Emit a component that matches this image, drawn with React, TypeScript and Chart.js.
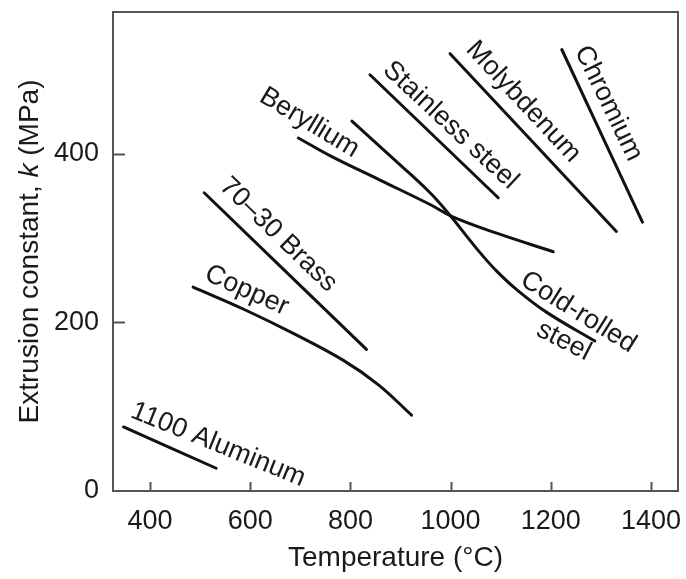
import React, { useEffect, useRef } from "react";
import { Chart, registerables } from "chart.js";

Chart.register(...registerables);

const FONT = "'Liberation Sans', Arial, Helvetica, sans-serif";

// ---- Data (temperature °C, extrusion constant k in MPa) ----
const aluminumT = [347, 532];
const aluminumK = [76, 27];

const copperT = [486, 586, 686, 786, 856, 922];
const copperK = [242, 216, 187, 155, 126, 90];

const brassT = [508, 832];
const brassK = [354, 168];

const berylliumT = [696, 759, 859, 959, 1002, 1092, 1205];
const berylliumK = [419, 398, 369, 340, 326, 306, 284];

const coldRolledT = [803, 892, 959, 1002, 1030, 1060, 1092, 1132, 1192, 1288];
const coldRolledK = [439, 391, 354, 325, 304, 282, 261, 239, 212, 178];

const stainlessT = [839, 1095];
const stainlessK = [494, 348];

const molybdenumT = [999, 1331];
const molybdenumK = [519, 308];

const chromiumT = [1222, 1383];
const chromiumK = [524, 319];

// ---- Axis ----
const xTickValues = [400, 600, 800, 1000, 1200, 1400];
const yTickValues = [0, 200, 400];
const xMin = 326;
const xMax = 1454;
const yMin = 0;
const yMax = 568.5;
const xTitle = "Temperature (°C)";
const yTitleParts = ["Extrusion constant, ", "k", " (MPa)"];

// ---- Curve labels (anchored in data coordinates) ----
const labelTexts = [
  "1100 Aluminum",
  "Copper",
  "70–30 Brass",
  "Beryllium",
  "Stainless steel",
  "Molybdenum",
  "Chromium",
  "Cold-rolled",
  "steel",
];
const labelT = [536, 593, 656, 718, 1000, 1145, 1315, 1255, 1226];
const labelK = [55, 238, 304, 437, 434, 462, 460, 212, 178];
const labelAngle = [22, 24, 44, 31, 43, 47, 64, 32, 27];

const series = [
  { name: "1100 Aluminum", t: aluminumT, k: aluminumK },
  { name: "Copper", t: copperT, k: copperK },
  { name: "70–30 Brass", t: brassT, k: brassK },
  { name: "Beryllium", t: berylliumT, k: berylliumK },
  { name: "Cold-rolled steel", t: coldRolledT, k: coldRolledK },
  { name: "Stainless steel", t: stainlessT, k: stainlessK },
  { name: "Molybdenum", t: molybdenumT, k: molybdenumK },
  { name: "Chromium", t: chromiumT, k: chromiumK },
];

const decorPlugin = {
  id: "decor",
  beforeDatasetsDraw(chart: any) {
    const { ctx, chartArea: a, scales } = chart;
    ctx.save();
    ctx.strokeStyle = "#555";
    ctx.lineWidth = 2;
    ctx.strokeRect(a.left, a.top, a.right - a.left, a.bottom - a.top);
    ctx.beginPath();
    for (const v of xTickValues) {
      const px = Math.round(scales.x.getPixelForValue(v)) + 0.5;
      ctx.moveTo(px, a.bottom);
      ctx.lineTo(px, a.bottom - 9);
    }
    for (const v of yTickValues) {
      if (v === yMin) continue;
      const py = Math.round(scales.y.getPixelForValue(v)) + 0.5;
      ctx.moveTo(a.left, py);
      ctx.lineTo(a.left + 12, py);
    }
    ctx.stroke();
    ctx.restore();
  },
  afterDraw(chart: any) {
    const { ctx, chartArea: a, scales } = chart;
    ctx.save();
    ctx.fillStyle = "#1a1a1a";
    ctx.font = `27px ${FONT}`;
    ctx.textAlign = "center";
    ctx.textBaseline = "middle";
    labelTexts.forEach((txt, i) => {
      const px = scales.x.getPixelForValue(labelT[i]);
      const py = scales.y.getPixelForValue(labelK[i]);
      ctx.save();
      ctx.translate(px, py);
      ctx.rotate((labelAngle[i] * Math.PI) / 180);
      ctx.fillText(txt, 0, 0);
      ctx.restore();
    });

    // y-axis title with italic k
    const styles = ["normal", "italic", "normal"];
    const widths = yTitleParts.map((p, i) => {
      ctx.font = `${styles[i]} 28px ${FONT}`;
      return ctx.measureText(p).width;
    });
    const total = widths.reduce((s, w) => s + w, 0);
    ctx.translate(30, (a.top + a.bottom) / 2);
    ctx.rotate(-Math.PI / 2);
    ctx.textAlign = "left";
    let x = -total / 2;
    yTitleParts.forEach((p, i) => {
      ctx.font = `${styles[i]} 28px ${FONT}`;
      ctx.fillText(p, x, 0);
      x += widths[i];
    });
    ctx.restore();
  },
};

function zeroPadding(scale: any) {
  scale.paddingTop = 0;
  scale.paddingBottom = 0;
  scale.paddingLeft = 0;
  scale.paddingRight = 0;
}

export default function App() {
  const canvasRef = useRef<HTMLCanvasElement | null>(null);

  useEffect(() => {
    if (!canvasRef.current) return;
    const chart = new Chart(canvasRef.current, {
      type: "line",
      data: {
        datasets: series.map((s) => ({
          label: s.name,
          data: s.t.map((x, i) => ({ x, y: s.k[i] })),
          borderColor: "#111",
          borderWidth: 3,
          pointRadius: 0,
          fill: false,
          tension: 0.4,
          borderCapStyle: "round",
          borderJoinStyle: "round",
        })),
      },
      options: {
        animation: false,
        responsive: false,
        devicePixelRatio: 1,
        layout: { padding: { left: 0, right: 8, top: 12, bottom: 0 } },
        plugins: {
          legend: { display: false },
          tooltip: { enabled: false },
        },
        scales: {
          x: {
            type: "linear",
            min: xMin,
            max: xMax,
            grid: { display: false, drawTicks: false },
            border: { display: false },
            afterBuildTicks: (scale: any) => {
              scale.ticks = xTickValues.map((v) => ({ value: v }));
            },
            ticks: {
              padding: 14,
              color: "#1a1a1a",
              font: { family: FONT, size: 27 },
              maxRotation: 0,
              autoSkip: false,
              callback: (v: any) => String(v),
            },
            title: {
              display: true,
              text: xTitle,
              color: "#1a1a1a",
              font: { family: FONT, size: 28 },
              padding: { top: 0, bottom: 4 },
            },
            afterFit: (scale: any) => {
              scale.height = 88;
              zeroPadding(scale);
            },
          },
          y: {
            type: "linear",
            min: yMin,
            max: yMax,
            grid: { display: false, drawTicks: false },
            border: { display: false },
            afterBuildTicks: (scale: any) => {
              scale.ticks = yTickValues.map((v) => ({ value: v }));
            },
            ticks: {
              padding: 14,
              color: "#1a1a1a",
              font: { family: FONT, size: 27 },
              autoSkip: false,
              callback: (v: any) => String(v),
            },
            afterFit: (scale: any) => {
              scale.width = 113;
              zeroPadding(scale);
            },
          },
        },
      },
      plugins: [decorPlugin],
    } as any);
    return () => chart.destroy();
  }, []);

  return (
    <div
      style={{
        position: "absolute",
        left: 0,
        top: 0,
        width: 686,
        height: 579,
        background: "#fff",
      }}
    >
      <canvas ref={canvasRef} width={686} height={579} />
    </div>
  );
}
